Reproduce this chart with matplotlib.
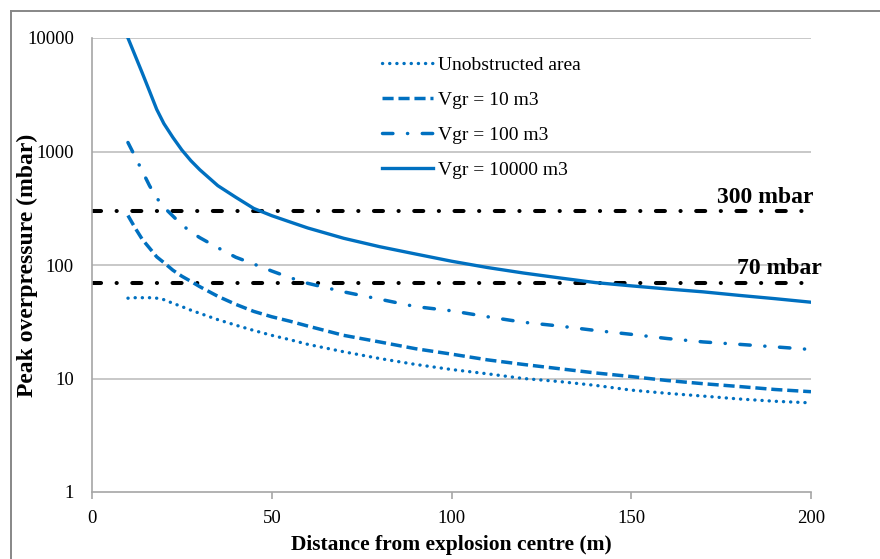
import matplotlib
matplotlib.use("Agg")
import matplotlib.pyplot as plt
from matplotlib.lines import Line2D
from matplotlib.ticker import FixedLocator, NullLocator

# ---- data ----
distance = [10, 12, 14, 16, 18, 20, 22.5, 25, 27.5, 30, 35, 40, 45, 50, 55, 60,
            70, 80, 90, 100, 110, 120, 130, 140, 150, 160, 170, 180, 190, 200]
unobstructed = [51, 51.5, 51.5, 51.5, 51, 49.5, 46, 43, 40, 37.5, 33, 29.5, 26.5,
                24, 22, 20, 17.2, 15.0, 13.3, 12.0, 11.0, 10.0, 9.4, 8.7, 7.9,
                7.4, 7.0, 6.6, 6.3, 6.1]
vgr10 = [273, 212, 168, 141, 118, 105, 90, 79.6, 71.8, 64.4, 53, 45, 39, 35, 32,
         29, 24, 21, 18.3, 16.4, 14.6, 13.3, 12.2, 11.2, 10.4, 9.6, 9.0, 8.5,
         8.0, 7.65]
vgr100 = [1200, 900, 670, 500, 390, 323, 270, 226, 196, 174, 142, 117, 102, 88.5,
          77.5, 69, 58, 50, 43, 39.5, 35, 31.3, 29, 26.5, 24.5, 22.5, 21, 20,
          19, 18]
vgr10000 = [10000, 7000, 4900, 3400, 2350, 1760, 1330, 1030, 830, 690, 500, 395,
            315, 272, 240, 212, 172, 145, 125, 108, 95, 85, 77, 70, 65.5, 61.5,
            58, 54, 50.5, 47]
series_labels = ["Unobstructed area", "Vgr = 10 m3", "Vgr = 100 m3", "Vgr = 10000 m3"]
threshold_values = [300, 70]
threshold_labels = ["300 mbar", "70 mbar"]
xticks = [0, 50, 100, 150, 200]
yticks = [1, 10, 100, 1000, 10000]
ytick_labels = ["1", "10", "100", "1000", "10000"]

BLUE = "#0070C0"
plt.rcParams['font.family'] = ['Liberation Serif', 'DejaVu Serif']

W, H = 880, 559
fig = plt.figure(figsize=(W / 100, H / 100), dpi=100)
ax = fig.add_axes([92 / W, 1 - 492 / H, (811 - 92) / W, (492 - 38) / H])

# figure border (top and left visible)
border_c = "#878787"
fig.add_artist(Line2D([11 / W, 1.01], [1 - 11 / H, 1 - 11 / H], transform=fig.transFigure,
                      color=border_c, lw=1.4))
fig.add_artist(Line2D([11 / W, 11 / W], [-0.01, 1 - 11 / H], transform=fig.transFigure,
                      color=border_c, lw=1.4))

ax.set_yscale('log')
ax.set_xlim(0, 200)
ax.set_ylim(1, 10000)

# gridlines
for yv in yticks[1:]:
    ax.axhline(yv, color="#BFBFBF", lw=1.2, zorder=0)

# threshold lines
for tv in threshold_values:
    ax.plot([0, 200], [tv, tv], color="black", lw=2.9,
            linestyle=(0, (2.25, 3.85, 0.05, 3.85)), dash_capstyle='round', zorder=2)

h1, = ax.plot(distance, unobstructed, color=BLUE, lw=2.4,
              linestyle=(0, (0.05, 2.1)), dash_capstyle='round', zorder=3)
h2, = ax.plot(distance, vgr10, color=BLUE, lw=2.5,
              linestyle=(0, (3.2, 1.4)), dash_capstyle='butt', zorder=3)
h3, = ax.plot(distance, vgr100, color=BLUE, lw=2.5,
              linestyle=(0, (3.0, 4.2, 0.05, 4.2)), dash_capstyle='round', zorder=3)
h4, = ax.plot(distance, vgr10000, color=BLUE, lw=2.4, linestyle='-', zorder=3)

ax.text(200.8, 397, threshold_labels[0], ha='right', va='center', fontsize=17,
        fontweight='bold', clip_on=False)
ax.text(203, 94, threshold_labels[1], ha='right', va='center', fontsize=17,
        fontweight='bold', clip_on=False)

# axes styling
for s in ['top', 'right']:
    ax.spines[s].set_visible(False)
for s in ['left', 'bottom']:
    ax.spines[s].set_color("#A6A6A6")
    ax.spines[s].set_linewidth(1.2)

ax.xaxis.set_major_locator(FixedLocator(xticks))
ax.set_xticklabels([str(t) for t in xticks])
ax.yaxis.set_major_locator(FixedLocator(yticks))
ax.yaxis.set_minor_locator(NullLocator())
ax.set_yticklabels(ytick_labels)
ax.tick_params(axis='x', direction='out', length=5, width=1.2, color="#A6A6A6",
               labelsize=13.5, pad=8)
ax.tick_params(axis='y', length=0, labelsize=13.5, pad=13)

ax.set_xlabel("Distance from explosion centre (m)", fontsize=15.5, fontweight='bold',
              labelpad=6)
ax.set_ylabel("Peak overpressure (mbar)", fontsize=17, fontweight='bold')
ax.yaxis.set_label_coords((38 - 92) / (811 - 92), 0.5)

leg = ax.legend([h1, h2, h3, h4], series_labels, loc='upper left',
                bbox_to_anchor=(382 / W, 1 - 56 / H), bbox_transform=fig.transFigure,
                frameon=False, fontsize=14, handlelength=2.6, handletextpad=0.3,
                labelspacing=0.9, borderpad=0, borderaxespad=0)

fig.savefig("out.png", dpi=100)
